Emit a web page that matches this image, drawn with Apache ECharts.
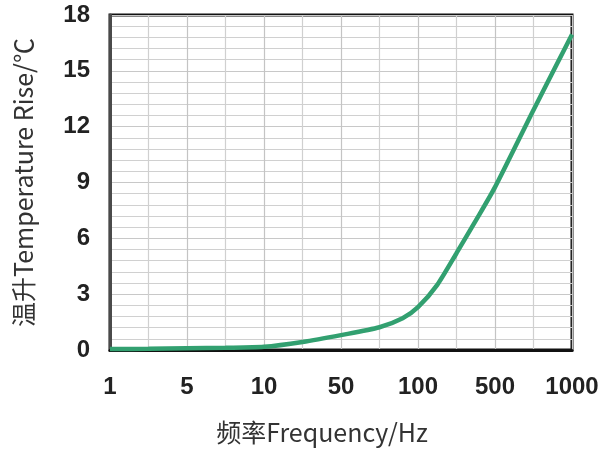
<!DOCTYPE html>
<html>
<head>
<meta charset="utf-8">
<script src="https://cdn.jsdelivr.net/npm/echarts@6/dist/echarts.min.js"></script>
<style>html,body{margin:0;padding:0;background:#fff;}#c{width:612px;height:450px;}</style>
</head>
<body>
<div id="c"></div>
<script>
// Frequency tick labels (evenly spaced on the axis)
const freqLabels = ['1', '5', '10', '50', '100', '500', '1000'];
// Curve positions along the tick index scale (0 = "1" Hz ... 6 = "1000" Hz)
const curvePos = [0, 0.5, 1, 1.5, 2, 2.5, 3, 3.5, 3.8, 4, 4.25, 4.5, 4.75, 5, 5.5, 6];
// Temperature rise values (°C)
const tempRise = [0.05, 0.07, 0.1, 0.12, 0.17, 0.43, 0.8, 1.22, 1.7, 2.3, 3.5, 5.2, 6.95, 8.75, 12.9, 16.95];

const seriesData = curvePos.map((p, i) => [p, tempRise[i]]);
const font = '"Liberation Sans", Arial, sans-serif';
const cjk = '"Noto Sans CJK SC", sans-serif';

const chart = echarts.init(document.getElementById('c'));
chart.setOption({
  animation: false,
  grid: { left: 110, right: 40, top: 15, bottom: 97, show: true, borderColor: '#111', borderWidth: 3 },
  xAxis: {
    type: 'value', min: 0, max: 6, interval: 1,
    name: '频率Frequency/Hz', nameLocation: 'middle', nameGap: 70,
    nameTextStyle: { fontSize: 25, color: '#333', fontFamily: cjk, padding: [0, 38, 0, 0] },
    axisLine: { show: true, lineStyle: { color: '#111', width: 3 } },
    axisTick: { show: false },
    axisLabel: { margin: 25, fontSize: 24, fontWeight: 'bold', color: '#222', fontFamily: font,
      formatter: v => freqLabels[Math.round(v)] },
    splitLine: { show: true, lineStyle: { color: '#c4c4c4', width: 1.2 } },
    minorTick: { show: false, splitNumber: 2 },
    minorSplitLine: { show: true, lineStyle: { color: '#d0d0d0', width: 1.2 } }
  },
  yAxis: {
    type: 'value', min: 0, max: 18, interval: 3,
    name: '温升Temperature Rise/℃', nameLocation: 'middle', nameGap: 74,
    nameTextStyle: { fontSize: 25, color: '#333', fontFamily: cjk },
    axisLine: { show: true, lineStyle: { color: '#4a4a4a', width: 3 } },
    axisTick: { show: false },
    axisLabel: { margin: 20, fontSize: 24, fontWeight: 'bold', color: '#222', fontFamily: font },
    splitLine: { show: true, lineStyle: { color: '#c8c8c8', width: 1.2 } },
    minorTick: { show: false, splitNumber: 5 },
    minorSplitLine: { show: true, lineStyle: { color: '#d0d0d0', width: 1.2 } }
  },
  series: [{
    type: 'line', data: seriesData, smooth: 0.25, showSymbol: false,
    lineStyle: { color: '#32a070', width: 4.5 }
  }]
});
</script>
</body>
</html>
